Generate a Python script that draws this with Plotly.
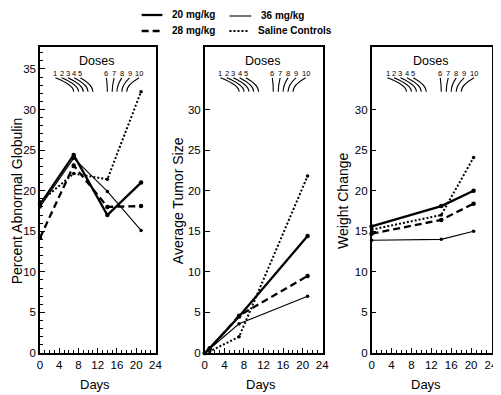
import plotly.graph_objects as go

# ---------------- data ----------------
series_names = ["20 mg/kg", "36 mg/kg", "28 mg/kg", "Saline Controls"]

days_globulin = [0, 7, 14, 21]
glob_20 = [18.3, 24.4, 17.0, 21.0]
glob_36 = [18.0, 24.0, 19.9, 15.1]
glob_28 = [14.2, 23.1, 18.0, 18.1]
glob_saline = [18.6, 22.1, 21.4, 32.2]

days_tumor = [0, 1, 7, 21]
tumor_20 = [0, 0.6, 4.5, 14.4]
tumor_36 = [0, 0.5, 3.6, 7.0]
tumor_28 = [0, 0.5, 4.6, 9.5]
tumor_saline = [0, 0.2, 2.0, 21.8]

days_weight = [0, 14, 20.5]
weight_20 = [15.6, 18.1, 20.0]
weight_36 = [13.9, 14.0, 15.0]
weight_28 = [14.7, 16.4, 18.4]
weight_saline = [15.2, 17.0, 24.1]

dose_labels = ["1", "2", "3", "4", "5", "6", "7", "8", "9", "10"]
dose_days = [7, 8, 9, 10, 11, 14, 15, 16, 17, 18]
dose_label_x = [3.2, 4.5, 5.8, 7.1, 8.4, 13.8, 15.4, 17.0, 18.6, 20.6]

y_titles = ["Percent Abnormal Globulin", "Average Tumor Size", "Weight Change"]
x_title = "Days"
x_ticks = [0, 4, 8, 12, 16, 20, 24]
y_ticks_1 = [0, 5, 10, 15, 20, 25, 30, 35]
y_ticks_23 = [0, 5, 10, 15, 20, 25, 30]

# ---------------- geometry (screen px of the 501x395 window) ----------------
OFF = 8                      # default body margin of the page
SW, SH = 501, 395
W, H = SW - OFF, SH - OFF
LEFT, RIGHT, TOP, BOTTOM = 40, 498, 47, 353   # plot area in screen px
ML = LEFT - OFF
MT = TOP - OFF
MR = W - (RIGHT - OFF)
MB = H - (BOTTOM - OFF)
PW = RIGHT - LEFT
PH = BOTTOM - TOP

def px(x):
    return (x - LEFT) / PW

def py(y):
    return (BOTTOM - y) / PH

FONT = "Liberation Sans, Arial, Helvetica, sans-serif"
styles = {
    "20 mg/kg": dict(color="black", width=2.3, dash="solid"),
    "36 mg/kg": dict(color="black", width=1.1, dash="solid"),
    "28 mg/kg": dict(color="black", width=2.3, dash="7px,4px"),
    "Saline Controls": dict(color="black", width=2.0, dash="2px,2px"),
}
msize = {"20 mg/kg": 4.5, "36 mg/kg": 3.5, "28 mg/kg": 4.5, "Saline Controls": 3.5}

fig = go.Figure()

panels = [
    ("x", "y", days_globulin, [glob_20, glob_36, glob_28, glob_saline]),
    ("x2", "y2", days_tumor, [tumor_20, tumor_36, tumor_28, tumor_saline]),
    ("x3", "y3", days_weight, [weight_20, weight_36, weight_28, weight_saline]),
]
for xa, ya, days, vals in panels:
    for name, v in zip(series_names, vals):
        fig.add_trace(go.Scatter(
            x=days, y=v, xaxis=xa, yaxis=ya, mode="lines+markers",
            line=styles[name], marker=dict(color="black", size=msize[name]),
            name=name, showlegend=False, cliponaxis=False))

domains = [[px(40), px(158)], [px(207), px(327)], [px(376), px(498)]]
YMAX = 37.7
axis_common = dict(showline=True, linecolor="black", linewidth=1.5, mirror=True,
                   ticks="inside", tickcolor="black", ticklen=5, tickwidth=1.2,
                   showgrid=False, zeroline=False,
                   tickfont=dict(family=FONT, size=11.5, color="black"))
for i in range(3):
    sfx = "" if i == 0 else str(i + 1)
    fig.update_layout(**{
        "xaxis" + sfx: dict(domain=domains[i], range=[0, 24.2], tickvals=x_ticks,
                            anchor="y" + sfx,
                            minor=dict(dtick=1, ticks="inside", ticklen=3,
                                       tickcolor="black", tickwidth=1),
                            **axis_common),
        "yaxis" + sfx: dict(domain=[0, 1], range=[0, YMAX],
                            tickvals=(y_ticks_1 if i == 0 else y_ticks_23),
                            anchor="x" + sfx,
                            minor=(dict(dtick=1, ticks="inside", ticklen=3,
                                        tickcolor="black", tickwidth=1)
                                   if i == 0 else None),
                            **axis_common),
    })

annotations = []
shapes = []
title_x = [17, 180, 347]
days_x = [96, 264, 431]
for i in range(3):
    sfx = "" if i == 0 else str(i + 1)
    annotations.append(dict(x=px(title_x[i]), y=py(201), xref="paper", yref="paper",
                            text=y_titles[i], textangle=-90, showarrow=False,
                            xanchor="center", yanchor="middle",
                            font=dict(family=FONT, size=14, color="black")))
    annotations.append(dict(x=px(days_x[i]), y=py(384), xref="paper", yref="paper",
                            text=x_title, showarrow=False,
                            xanchor="center", yanchor="middle",
                            font=dict(family=FONT, size=13, color="black")))
    # dose annotations
    annotations.append(dict(x=11.8, y=36.0, xref="x" + sfx, yref="y" + sfx,
                            text="Doses", showarrow=False,
                            xanchor="center", yanchor="middle",
                            font=dict(family=FONT, size=12.5, color="black")))
    for lab, lx, dd in zip(dose_labels, dose_label_x, dose_days):
        annotations.append(dict(x=lx, y=34.45, xref="x" + sfx, yref="y" + sfx,
                                text=lab, showarrow=False,
                                xanchor="center", yanchor="middle",
                                font=dict(family=FONT, size=7.5, color="black")))
        y0, y1 = 33.9, 32.2
        path = f"M {lx},{y0} Q {dd},{y0 - 0.9} {dd},{y1}"
        shapes.append(dict(type="path", path=path, xref="x" + sfx, yref="y" + sfx,
                           line=dict(color="black", width=1.1)))

# legend drawn at the top
leg = [
    ("20 mg/kg", 143, 164, 15, 172),
    ("36 mg/kg", 232, 254, 16, 262),
    ("28 mg/kg", 143, 164, 31, 172),
    ("Saline Controls", 232, 252, 31, 259),
]
for name, x0, x1, yy, tx in leg:
    st = styles[name]
    shapes.append(dict(type="line", xref="paper", yref="paper",
                       x0=px(x0), x1=px(x1), y0=py(yy), y1=py(yy),
                       line=dict(color="black", width=st["width"], dash=st["dash"])))
    annotations.append(dict(x=px(tx), y=py(yy - 0.5), xref="paper", yref="paper",
                            text="<b>" + name + "</b>", showarrow=False,
                            xanchor="left", yanchor="middle",
                            font=dict(family=FONT, size=10, color="black")))

fig.update_layout(width=W, height=H, margin=dict(l=ML, r=MR, t=MT, b=MB),
                  paper_bgcolor="white", plot_bgcolor="white",
                  showlegend=False, annotations=annotations, shapes=shapes)

fig.write_html("out.html")
